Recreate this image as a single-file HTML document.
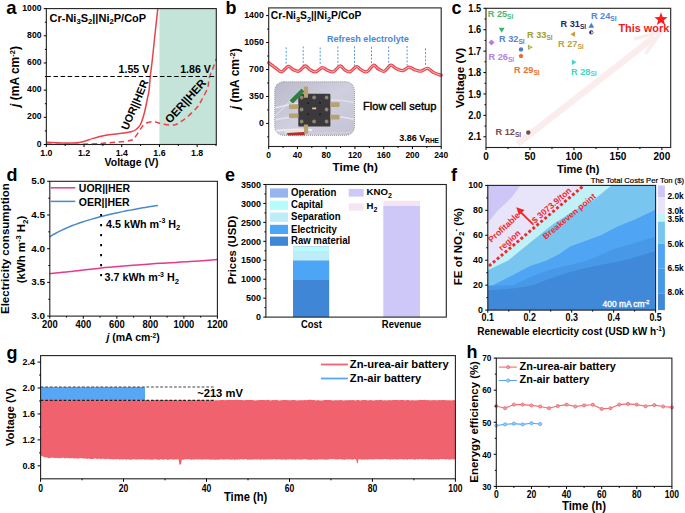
<!DOCTYPE html><html><head><meta charset="utf-8"><style>html,body{margin:0;padding:0;background:#fff;width:685px;height:513px;overflow:hidden}svg{display:block}</style></head><body>
<svg width="685" height="513" viewBox="0 0 685 513" font-family='"Liberation Sans", sans-serif'>
<rect x="159.45" y="8.60" width="56.85" height="135.90" fill="#c4e3d9" />
<path d="M46.60,142.20 C50.25,142.33 62.80,142.98 68.50,143.00 C74.20,143.02 76.70,143.07 80.80,142.30 C84.90,141.53 89.15,139.53 93.10,138.40 C97.05,137.27 100.70,136.23 104.50,135.50 C108.30,134.77 111.47,134.63 115.90,134.00 C120.33,133.37 127.62,132.55 131.10,131.70 C134.58,130.85 135.22,130.15 136.80,128.90 C138.38,127.65 139.33,126.88 140.60,124.20 C141.87,121.52 143.30,116.92 144.40,112.80 C145.50,108.68 146.42,103.30 147.20,99.50 C147.98,95.70 148.58,93.87 149.10,90.00 C149.62,86.13 149.77,81.30 150.30,76.30 C150.83,71.30 151.58,66.38 152.30,60.00 C153.02,53.62 153.68,46.57 154.60,38.00 C155.52,29.43 157.27,13.50 157.80,8.60" fill="none" stroke="#e8434b" stroke-width="1.5" />
<path d="M46.60,144.10 C53.40,144.10 75.85,144.42 87.40,144.10 C98.95,143.78 108.62,142.83 115.90,142.20 C123.18,141.57 127.93,141.10 131.10,140.30 C134.27,139.50 133.32,139.30 134.90,137.40 C136.48,135.50 139.02,131.10 140.60,128.90 C142.18,126.70 142.83,125.35 144.40,124.20 C145.97,123.05 148.23,122.38 150.00,122.00 C151.77,121.62 152.68,121.52 155.00,121.90 C157.32,122.28 160.72,123.78 163.90,124.30 C167.08,124.82 171.42,125.37 174.10,125.00 C176.78,124.63 177.80,123.43 180.00,122.10 C182.20,120.77 184.38,119.55 187.30,117.00 C190.22,114.45 195.07,109.72 197.50,106.80 C199.93,103.88 200.20,102.67 201.90,99.50 C203.60,96.33 206.48,91.38 207.70,87.80 C208.92,84.22 208.35,81.17 209.20,78.00 C210.05,74.83 211.62,71.97 212.80,68.80 C213.98,65.63 215.72,60.63 216.30,59.00" fill="none" stroke="#e8434b" stroke-width="1.5" stroke-dasharray="5.5,3.5"/>
<line x1="46.35" y1="76.55" x2="216.30" y2="76.55" stroke="#000" stroke-width="1.1" stroke-dasharray="4.5,2.6"/>
<rect x="46.35" y="8.60" width="169.95" height="135.90" fill="none" stroke="#222" stroke-width="1.1"/>
<line x1="43.75" y1="144.50" x2="46.35" y2="144.50" stroke="#000" stroke-width="1" />
<text transform="translate(41.45 146.60)" font-size="8.6" text-anchor="end" font-weight="bold" fill="#000" >0</text>
<line x1="43.75" y1="117.32" x2="46.35" y2="117.32" stroke="#000" stroke-width="1" />
<text transform="translate(41.45 119.42)" font-size="8.6" text-anchor="end" font-weight="bold" fill="#000" >200</text>
<line x1="43.75" y1="90.14" x2="46.35" y2="90.14" stroke="#000" stroke-width="1" />
<text transform="translate(41.45 92.24)" font-size="8.6" text-anchor="end" font-weight="bold" fill="#000" >400</text>
<line x1="43.75" y1="62.96" x2="46.35" y2="62.96" stroke="#000" stroke-width="1" />
<text transform="translate(41.45 65.06)" font-size="8.6" text-anchor="end" font-weight="bold" fill="#000" >600</text>
<line x1="43.75" y1="35.78" x2="46.35" y2="35.78" stroke="#000" stroke-width="1" />
<text transform="translate(41.45 37.88)" font-size="8.6" text-anchor="end" font-weight="bold" fill="#000" >800</text>
<line x1="43.75" y1="8.60" x2="46.35" y2="8.60" stroke="#000" stroke-width="1" />
<text transform="translate(41.45 10.70)" font-size="8.6" text-anchor="end" font-weight="bold" fill="#000" >1000</text>
<line x1="44.85" y1="130.91" x2="46.35" y2="130.91" stroke="#000" stroke-width="1" />
<line x1="44.85" y1="103.73" x2="46.35" y2="103.73" stroke="#000" stroke-width="1" />
<line x1="44.85" y1="76.55" x2="46.35" y2="76.55" stroke="#000" stroke-width="1" />
<line x1="44.85" y1="49.37" x2="46.35" y2="49.37" stroke="#000" stroke-width="1" />
<line x1="44.85" y1="22.19" x2="46.35" y2="22.19" stroke="#000" stroke-width="1" />
<line x1="46.35" y1="144.50" x2="46.35" y2="147.10" stroke="#000" stroke-width="1" />
<text transform="translate(46.35 156.40) scale(1.0 1.12)" font-size="8.8" text-anchor="middle" font-weight="bold" fill="#000" >1.0</text>
<line x1="84.05" y1="144.50" x2="84.05" y2="147.10" stroke="#000" stroke-width="1" />
<text transform="translate(84.05 156.40) scale(1.0 1.12)" font-size="8.8" text-anchor="middle" font-weight="bold" fill="#000" >1.2</text>
<line x1="121.75" y1="144.50" x2="121.75" y2="147.10" stroke="#000" stroke-width="1" />
<text transform="translate(121.75 156.40) scale(1.0 1.12)" font-size="8.8" text-anchor="middle" font-weight="bold" fill="#000" >1.4</text>
<line x1="159.45" y1="144.50" x2="159.45" y2="147.10" stroke="#000" stroke-width="1" />
<text transform="translate(159.45 156.40) scale(1.0 1.12)" font-size="8.8" text-anchor="middle" font-weight="bold" fill="#000" >1.6</text>
<line x1="197.15" y1="144.50" x2="197.15" y2="147.10" stroke="#000" stroke-width="1" />
<text transform="translate(197.15 156.40) scale(1.0 1.12)" font-size="8.8" text-anchor="middle" font-weight="bold" fill="#000" >1.8</text>
<line x1="65.20" y1="144.50" x2="65.20" y2="146.00" stroke="#000" stroke-width="1" />
<line x1="102.90" y1="144.50" x2="102.90" y2="146.00" stroke="#000" stroke-width="1" />
<line x1="140.60" y1="144.50" x2="140.60" y2="146.00" stroke="#000" stroke-width="1" />
<line x1="178.30" y1="144.50" x2="178.30" y2="146.00" stroke="#000" stroke-width="1" />
<line x1="216.00" y1="144.50" x2="216.00" y2="146.00" stroke="#000" stroke-width="1" />
<text transform="translate(131.50 165.60) scale(1.0 1.05)" font-size="10.5" text-anchor="middle" font-weight="bold" fill="#000" >Voltage (V)</text>
<text transform="translate(18.70 76.50) rotate(-90)" font-size="12" text-anchor="middle" font-weight="bold" fill="#000" ><tspan font-style="italic">j</tspan> (mA cm<tspan dy="-4" font-size="7.5">-2</tspan><tspan dy="4">)</tspan></text>
<text transform="translate(6.30 14.20)" font-size="18.5" text-anchor="start" font-weight="bold" fill="#000" >a</text>
<text transform="translate(49.50 21.80)" font-size="11" text-anchor="start" font-weight="bold" fill="#000" >Cr-Ni<tspan dy="2.5" font-size="7.7">3</tspan><tspan dy="-2.5">S</tspan><tspan dy="2.5" font-size="7.7">2</tspan><tspan dy="-2.5">||Ni</tspan><tspan dy="2.5" font-size="7.7">2</tspan><tspan dy="-2.5">P/CoP</tspan></text>
<text transform="translate(118.60 73.30)" font-size="10.6" text-anchor="start" font-weight="bold" fill="#000" >1.55 V</text>
<text transform="translate(180.20 73.30)" font-size="10.6" text-anchor="start" font-weight="bold" fill="#000" >1.86 V</text>
<text transform="translate(138.20 106.30) rotate(-67)" font-size="10.9" text-anchor="middle" font-weight="bold" fill="#000" >UOR||HER</text>
<text transform="translate(188.40 103.70) rotate(-48)" font-size="11.3" text-anchor="middle" font-weight="bold" fill="#000" >OER||HER</text>
<defs><clipPath id="ph"><rect x="274.7" y="81.7" width="79.8" height="53.7" rx="9" ry="9"/></clipPath><linearGradient id="phg" x1="0" y1="0" x2="1" y2="1"><stop offset="0" stop-color="#b9b9cb"/><stop offset="0.5" stop-color="#cfcfdf"/><stop offset="1" stop-color="#c3c3d6"/></linearGradient></defs>
<g clip-path="url(#ph)">
<rect x="274.70" y="81.70" width="79.80" height="53.70" fill="url(#phg)" />
<path d="M274,108 C284,106 292,104 300,103" fill="none" stroke="#e6e6f0" stroke-width="1.4" />
<path d="M274,120 C284,118 292,117 300,116" fill="none" stroke="#e2e2ec" stroke-width="1.4" />
<path d="M274,131 C290,129 300,129 312,130" fill="none" stroke="#eeeef4" stroke-width="1.8" />
<path d="M330,100 C340,99 348,101 356,103" fill="none" stroke="#e4e4ee" stroke-width="1.3" />
<path d="M330,116 C340,116 348,118 356,120" fill="none" stroke="#e4e4ee" stroke-width="1.3" />
<path d="M275,116 C282,110 288,103 291,100" fill="none" stroke="#f4f4f8" stroke-width="0.7" />
<path d="M306,134 C320,133 338,133 356,132" fill="none" stroke="#d8ccd4" stroke-width="1.5" />
<rect x="298.30" y="93.80" width="32.10" height="32.80" fill="#3b393b" rx="1.2"/>
<circle cx="301.60" cy="97.50" r="1.9" fill="#8c8678"/>
<circle cx="314.10" cy="97.50" r="1.9" fill="#8c8678"/>
<circle cx="326.60" cy="97.50" r="1.9" fill="#8c8678"/>
<circle cx="301.60" cy="109.50" r="1.9" fill="#8c8678"/>
<circle cx="326.60" cy="109.50" r="1.9" fill="#8c8678"/>
<circle cx="301.60" cy="121.50" r="1.9" fill="#8c8678"/>
<circle cx="314.10" cy="121.50" r="1.9" fill="#8c8678"/>
<circle cx="326.60" cy="121.50" r="1.9" fill="#8c8678"/>
<circle cx="308.2" cy="103" r="1.0" fill="#1e1e1e"/>
<circle cx="320" cy="103" r="1.0" fill="#1e1e1e"/>
<circle cx="308.2" cy="114.2" r="1.0" fill="#1e1e1e"/>
<circle cx="320" cy="114.2" r="1.0" fill="#1e1e1e"/>
<rect x="312.20" y="107.50" width="4.00" height="1.80" fill="#d4c8a8" />
<rect x="289.00" y="104.30" width="9.30" height="4.60" fill="#b8a272" rx="0.8"/>
<rect x="289.00" y="113.50" width="9.30" height="4.50" fill="#b8a272" rx="0.8"/>
<rect x="330.40" y="102.30" width="9.20" height="4.60" fill="#b8a272" rx="0.8"/>
<rect x="330.40" y="114.80" width="9.20" height="4.60" fill="#b8a272" rx="0.8"/>
<rect x="303.90" y="86.50" width="4.20" height="11.20" fill="#b8a272" rx="0.8"/>
<rect x="303.90" y="124.60" width="4.20" height="9.20" fill="#b8a272" rx="0.8"/>
<path d="M290.5,100.5 L301.5,89.5 L303.5,91.5 L293,102.5 Z" fill="#2d8040" stroke="#2d8040" stroke-width="1.2" stroke-linejoin="round"/>
<path d="M284,130 L304,129.5 L304,132.2 L285,133.2 Z" fill="#e8e6dc"/>
<path d="M287,133 L304,132 L305,135.5 L288,136 Z" fill="#c02828"/>
</g>
<rect x="274.7" y="81.7" width="79.8" height="53.7" rx="9" ry="9" fill="none" stroke="#555" stroke-width="0.6" stroke-dasharray="1,1"/>
<line x1="286.20" y1="47.30" x2="286.20" y2="65.70" stroke="#4a88d0" stroke-width="0.9" stroke-dasharray="2,1.6"/>
<line x1="303.20" y1="46.40" x2="303.20" y2="65.70" stroke="#4a88d0" stroke-width="0.9" stroke-dasharray="2,1.6"/>
<line x1="320.20" y1="47.50" x2="320.20" y2="65.70" stroke="#4a88d0" stroke-width="0.9" stroke-dasharray="2,1.6"/>
<line x1="337.90" y1="46.40" x2="337.90" y2="65.70" stroke="#4a88d0" stroke-width="0.9" stroke-dasharray="2,1.6"/>
<line x1="354.50" y1="46.40" x2="354.50" y2="65.70" stroke="#4a88d0" stroke-width="0.9" stroke-dasharray="2,1.6"/>
<line x1="371.50" y1="46.80" x2="371.50" y2="65.70" stroke="#4a88d0" stroke-width="0.9" stroke-dasharray="2,1.6"/>
<line x1="388.70" y1="46.40" x2="388.70" y2="65.70" stroke="#4a88d0" stroke-width="0.9" stroke-dasharray="2,1.6"/>
<line x1="407.10" y1="46.00" x2="407.10" y2="65.70" stroke="#4a88d0" stroke-width="0.9" stroke-dasharray="2,1.6"/>
<line x1="425.50" y1="48.50" x2="425.50" y2="65.70" stroke="#4a88d0" stroke-width="0.9" stroke-dasharray="2,1.6"/>
<path d="M268.70,62.80 C269.83,63.63 273.33,66.30 275.50,67.80 C277.67,69.30 279.58,72.03 281.70,71.80 C283.82,71.57 286.33,66.80 288.20,66.40 C290.07,66.00 291.18,68.58 292.93,69.38 C294.68,70.18 296.65,71.76 298.70,71.20 C300.75,70.64 303.33,66.27 305.20,66.00 C307.07,65.73 308.18,68.63 309.93,69.60 C311.68,70.56 313.65,72.13 315.70,71.80 C317.75,71.47 320.28,67.87 322.20,67.60 C324.12,67.33 325.37,69.50 327.24,70.20 C329.11,70.90 331.29,72.50 333.40,71.80 C335.51,71.10 338.06,66.37 339.90,66.00 C341.74,65.63 342.76,68.63 344.44,69.60 C346.13,70.56 347.99,72.28 350.00,71.80 C352.01,71.32 354.63,67.02 356.50,66.70 C358.37,66.38 359.48,69.01 361.23,69.86 C362.98,70.71 364.95,72.56 367.00,71.80 C369.05,71.04 371.61,65.77 373.50,65.30 C375.39,64.83 376.53,67.97 378.31,68.96 C380.10,69.94 382.14,71.83 384.20,71.20 C386.26,70.57 388.72,65.64 390.70,65.20 C392.68,64.76 394.07,67.65 396.06,68.55 C398.04,69.45 400.43,70.82 402.60,70.60 C404.77,70.38 407.12,67.35 409.10,67.20 C411.08,67.05 412.47,69.01 414.46,69.68 C416.44,70.35 418.83,71.43 421.00,71.20 C423.17,70.97 425.39,68.06 427.50,68.30 C429.61,68.54 431.38,71.47 433.67,72.64 C435.95,73.81 439.94,74.86 441.20,75.30" fill="none" stroke="#e8474f" stroke-width="3.3" stroke-linecap="round"/>
<path d="M268.70,62.80 C269.83,63.63 273.33,66.30 275.50,67.80 C277.67,69.30 279.58,72.03 281.70,71.80 C283.82,71.57 286.33,66.80 288.20,66.40 C290.07,66.00 291.18,68.58 292.93,69.38 C294.68,70.18 296.65,71.76 298.70,71.20 C300.75,70.64 303.33,66.27 305.20,66.00 C307.07,65.73 308.18,68.63 309.93,69.60 C311.68,70.56 313.65,72.13 315.70,71.80 C317.75,71.47 320.28,67.87 322.20,67.60 C324.12,67.33 325.37,69.50 327.24,70.20 C329.11,70.90 331.29,72.50 333.40,71.80 C335.51,71.10 338.06,66.37 339.90,66.00 C341.74,65.63 342.76,68.63 344.44,69.60 C346.13,70.56 347.99,72.28 350.00,71.80 C352.01,71.32 354.63,67.02 356.50,66.70 C358.37,66.38 359.48,69.01 361.23,69.86 C362.98,70.71 364.95,72.56 367.00,71.80 C369.05,71.04 371.61,65.77 373.50,65.30 C375.39,64.83 376.53,67.97 378.31,68.96 C380.10,69.94 382.14,71.83 384.20,71.20 C386.26,70.57 388.72,65.64 390.70,65.20 C392.68,64.76 394.07,67.65 396.06,68.55 C398.04,69.45 400.43,70.82 402.60,70.60 C404.77,70.38 407.12,67.35 409.10,67.20 C411.08,67.05 412.47,69.01 414.46,69.68 C416.44,70.35 418.83,71.43 421.00,71.20 C423.17,70.97 425.39,68.06 427.50,68.30 C429.61,68.54 431.38,71.47 433.67,72.64 C435.95,73.81 439.94,74.86 441.20,75.30" fill="none" stroke="#fbe4e5" stroke-width="0.8" />
<rect x="268.70" y="7.90" width="172.50" height="138.60" fill="none" stroke="#222" stroke-width="1.1"/>
<line x1="266.10" y1="123.40" x2="268.70" y2="123.40" stroke="#000" stroke-width="1" />
<text transform="translate(263.80 125.60) scale(1.0 1.05)" font-size="8.8" text-anchor="end" font-weight="bold" fill="#000" >0</text>
<line x1="266.10" y1="96.45" x2="268.70" y2="96.45" stroke="#000" stroke-width="1" />
<text transform="translate(263.80 98.65) scale(1.0 1.05)" font-size="8.8" text-anchor="end" font-weight="bold" fill="#000" >350</text>
<line x1="266.10" y1="69.50" x2="268.70" y2="69.50" stroke="#000" stroke-width="1" />
<text transform="translate(263.80 71.70) scale(1.0 1.05)" font-size="8.8" text-anchor="end" font-weight="bold" fill="#000" >700</text>
<line x1="266.10" y1="42.55" x2="268.70" y2="42.55" stroke="#000" stroke-width="1" />
<text transform="translate(263.80 44.75) scale(1.0 1.05)" font-size="8.8" text-anchor="end" font-weight="bold" fill="#000" >1050</text>
<line x1="266.10" y1="15.60" x2="268.70" y2="15.60" stroke="#000" stroke-width="1" />
<text transform="translate(263.80 17.80) scale(1.0 1.05)" font-size="8.8" text-anchor="end" font-weight="bold" fill="#000" >1400</text>
<line x1="267.20" y1="136.88" x2="268.70" y2="136.88" stroke="#000" stroke-width="1" />
<line x1="267.20" y1="109.92" x2="268.70" y2="109.92" stroke="#000" stroke-width="1" />
<line x1="267.20" y1="82.97" x2="268.70" y2="82.97" stroke="#000" stroke-width="1" />
<line x1="267.20" y1="56.03" x2="268.70" y2="56.03" stroke="#000" stroke-width="1" />
<line x1="267.20" y1="29.08" x2="268.70" y2="29.08" stroke="#000" stroke-width="1" />
<line x1="268.70" y1="146.50" x2="268.70" y2="149.10" stroke="#000" stroke-width="1" />
<text transform="translate(268.70 157.60) scale(1.0 1.18)" font-size="8.4" text-anchor="middle" font-weight="bold" fill="#000" >0</text>
<line x1="297.45" y1="146.50" x2="297.45" y2="149.10" stroke="#000" stroke-width="1" />
<text transform="translate(297.45 157.60) scale(1.0 1.18)" font-size="8.4" text-anchor="middle" font-weight="bold" fill="#000" >40</text>
<line x1="326.20" y1="146.50" x2="326.20" y2="149.10" stroke="#000" stroke-width="1" />
<text transform="translate(326.20 157.60) scale(1.0 1.18)" font-size="8.4" text-anchor="middle" font-weight="bold" fill="#000" >80</text>
<line x1="354.95" y1="146.50" x2="354.95" y2="149.10" stroke="#000" stroke-width="1" />
<text transform="translate(354.95 157.60) scale(1.0 1.18)" font-size="8.4" text-anchor="middle" font-weight="bold" fill="#000" >120</text>
<line x1="383.70" y1="146.50" x2="383.70" y2="149.10" stroke="#000" stroke-width="1" />
<text transform="translate(383.70 157.60) scale(1.0 1.18)" font-size="8.4" text-anchor="middle" font-weight="bold" fill="#000" >160</text>
<line x1="412.45" y1="146.50" x2="412.45" y2="149.10" stroke="#000" stroke-width="1" />
<text transform="translate(412.45 157.60) scale(1.0 1.18)" font-size="8.4" text-anchor="middle" font-weight="bold" fill="#000" >200</text>
<line x1="441.20" y1="146.50" x2="441.20" y2="149.10" stroke="#000" stroke-width="1" />
<text transform="translate(441.20 157.60) scale(1.0 1.18)" font-size="8.4" text-anchor="middle" font-weight="bold" fill="#000" >240</text>
<line x1="283.07" y1="146.50" x2="283.07" y2="148.00" stroke="#000" stroke-width="1" />
<line x1="311.82" y1="146.50" x2="311.82" y2="148.00" stroke="#000" stroke-width="1" />
<line x1="340.57" y1="146.50" x2="340.57" y2="148.00" stroke="#000" stroke-width="1" />
<line x1="369.32" y1="146.50" x2="369.32" y2="148.00" stroke="#000" stroke-width="1" />
<line x1="398.07" y1="146.50" x2="398.07" y2="148.00" stroke="#000" stroke-width="1" />
<line x1="426.82" y1="146.50" x2="426.82" y2="148.00" stroke="#000" stroke-width="1" />
<text transform="translate(355.20 170.60)" font-size="11.7" text-anchor="middle" font-weight="bold" fill="#000" >Time (h)</text>
<text transform="translate(238.50 78.80) rotate(-90)" font-size="12" text-anchor="middle" font-weight="bold" fill="#000" ><tspan font-style="italic">j</tspan> (mA cm<tspan dy="-4" font-size="7.5">-2</tspan><tspan dy="4">)</tspan></text>
<text transform="translate(225.50 14.00)" font-size="18" text-anchor="start" font-weight="bold" fill="#000" >b</text>
<text transform="translate(270.80 19.40)" font-size="10.3" text-anchor="start" font-weight="bold" fill="#000" >Cr-Ni<tspan dy="2.3" font-size="7.3">3</tspan><tspan dy="-2.3">S</tspan><tspan dy="2.3" font-size="7.3">2</tspan><tspan dy="-2.3">||Ni</tspan><tspan dy="2.3" font-size="7.3">2</tspan><tspan dy="-2.3">P/CoP</tspan></text>
<text transform="translate(367.90 42.00)" font-size="9.1" text-anchor="middle" font-weight="bold" fill="#4a88d0" >Refresh electrolyte</text>
<text transform="translate(399.70 110.20)" font-size="11.1" text-anchor="middle" font-weight="normal" fill="#000" stroke="#000" stroke-width="0.4">Flow cell setup</text>
<text transform="translate(399.20 140.70)" font-size="9" text-anchor="start" font-weight="bold" fill="#000" >3.86 V<tspan dy="2.5" font-size="6.5">RHE</tspan></text>
<g opacity="0.34">
<path d="M517.6,144.0 L655,36.5" stroke="#f5cccc" stroke-width="6.4" stroke-linecap="butt"/>
<path d="M634,39 L661.5,31.6 L645.7,53.5" fill="none" stroke="#f5cccc" stroke-width="3.6" stroke-linejoin="miter"/>
</g>
<polygon points="498.80,27.78 504.60,27.78 501.70,32.71" fill="#3cb371" />
<polygon points="491.50,39.60 494.50,42.60 491.50,45.60 488.50,42.60" fill="#b57be8" />
<circle cx="521" cy="49.4" r="2.2" fill="#4f7cc4"/>
<polygon points="521.00,53.60 523.28,55.26 522.41,57.94 519.59,57.94 518.72,55.26" fill="#f06a2a" />
<polygon points="527.96,44.50 527.96,50.10 532.72,47.30" fill="#9aa030" />
<path d="M528.6,45.0 L528.6,49.6 L531.5,47.3 Z" fill="#fff" opacity="0.5"/>
<circle cx="528.3" cy="132.5" r="2.2" fill="#7a4a50"/>
<polygon points="588.40,27.72 594.20,27.72 591.30,22.79" fill="#3f7ee0" />
<circle cx="591.3" cy="32.4" r="2.1" fill="#2a1f6e"/>
<path d="M591.3,30.9 A1.5,1.5 0 0 1 591.3,33.9 Z" fill="#fff"/>
<polygon points="575.14,31.40 575.14,37.00 570.38,34.20" fill="#c0a040" />
<polygon points="571.86,59.40 571.86,65.00 576.62,62.20" fill="#40d8c8" />
<polygon points="661.00,12.30 662.70,16.95 667.66,17.14 663.76,20.20 665.11,24.96 661.00,22.20 656.89,24.96 658.24,20.20 654.34,17.14 659.30,16.95" fill="#fc1a1a" />
<text transform="translate(487.70 16.90)" font-size="9.2" text-anchor="start" font-weight="bold" fill="#4cb86a" >R 25<tspan dy="1.9" font-size="6.6">SI</tspan></text>
<text transform="translate(499.00 42.40)" font-size="9.2" text-anchor="start" font-weight="bold" fill="#5d82c8" >R 32<tspan dy="1.9" font-size="6.6">SI</tspan></text>
<text transform="translate(488.50 59.60)" font-size="9.2" text-anchor="start" font-weight="bold" fill="#b77ee8" >R 26<tspan dy="1.9" font-size="6.6">SI</tspan></text>
<text transform="translate(514.00 72.70)" font-size="9.2" text-anchor="start" font-weight="bold" fill="#f07030" >R 29<tspan dy="1.9" font-size="6.6">SI</tspan></text>
<text transform="translate(527.00 37.70)" font-size="9.2" text-anchor="start" font-weight="bold" fill="#9aa030" >R 33<tspan dy="1.9" font-size="6.6">SI</tspan></text>
<text transform="translate(495.50 134.80)" font-size="9.2" text-anchor="start" font-weight="bold" fill="#7a4a50" >R 12<tspan dy="1.9" font-size="6.6">SI</tspan></text>
<text transform="translate(590.90 18.90)" font-size="9.2" text-anchor="start" font-weight="bold" fill="#4f86e0" >R 24<tspan dy="1.9" font-size="6.6">SI</tspan></text>
<text transform="translate(560.50 27.20)" font-size="9.2" text-anchor="start" font-weight="bold" fill="#2a1f6e" >R 31<tspan dy="1.9" font-size="6.6">SI</tspan></text>
<text transform="translate(558.00 47.00)" font-size="9.2" text-anchor="start" font-weight="bold" fill="#c0a040" >R 27<tspan dy="1.9" font-size="6.6">SI</tspan></text>
<text transform="translate(571.00 74.50)" font-size="9.2" text-anchor="start" font-weight="bold" fill="#40d8c8" >R 28<tspan dy="1.9" font-size="6.6">SI</tspan></text>
<text transform="translate(618.40 31.50)" font-size="10.9" text-anchor="start" font-weight="bold" fill="#f02020" >This work</text>
<rect x="486.00" y="8.30" width="184.70" height="139.20" fill="none" stroke="#222" stroke-width="1.1"/>
<line x1="483.40" y1="8.30" x2="486.00" y2="8.30" stroke="#000" stroke-width="1" />
<text transform="translate(481.10 11.90) scale(1.0 1.14)" font-size="9.2" text-anchor="end" font-weight="bold" fill="#000" >1.5</text>
<line x1="483.40" y1="29.72" x2="486.00" y2="29.72" stroke="#000" stroke-width="1" />
<text transform="translate(481.10 33.32) scale(1.0 1.14)" font-size="9.2" text-anchor="end" font-weight="bold" fill="#000" >1.6</text>
<line x1="483.40" y1="51.13" x2="486.00" y2="51.13" stroke="#000" stroke-width="1" />
<text transform="translate(481.10 54.73) scale(1.0 1.14)" font-size="9.2" text-anchor="end" font-weight="bold" fill="#000" >1.7</text>
<line x1="483.40" y1="72.55" x2="486.00" y2="72.55" stroke="#000" stroke-width="1" />
<text transform="translate(481.10 76.15) scale(1.0 1.14)" font-size="9.2" text-anchor="end" font-weight="bold" fill="#000" >1.8</text>
<line x1="483.40" y1="93.96" x2="486.00" y2="93.96" stroke="#000" stroke-width="1" />
<text transform="translate(481.10 97.56) scale(1.0 1.14)" font-size="9.2" text-anchor="end" font-weight="bold" fill="#000" >1.9</text>
<line x1="483.40" y1="115.38" x2="486.00" y2="115.38" stroke="#000" stroke-width="1" />
<text transform="translate(481.10 118.98) scale(1.0 1.14)" font-size="9.2" text-anchor="end" font-weight="bold" fill="#000" >2.0</text>
<line x1="483.40" y1="136.79" x2="486.00" y2="136.79" stroke="#000" stroke-width="1" />
<text transform="translate(481.10 140.39) scale(1.0 1.14)" font-size="9.2" text-anchor="end" font-weight="bold" fill="#000" >2.1</text>
<line x1="484.50" y1="19.01" x2="486.00" y2="19.01" stroke="#000" stroke-width="1" />
<line x1="484.50" y1="40.42" x2="486.00" y2="40.42" stroke="#000" stroke-width="1" />
<line x1="484.50" y1="61.84" x2="486.00" y2="61.84" stroke="#000" stroke-width="1" />
<line x1="484.50" y1="83.25" x2="486.00" y2="83.25" stroke="#000" stroke-width="1" />
<line x1="484.50" y1="104.67" x2="486.00" y2="104.67" stroke="#000" stroke-width="1" />
<line x1="484.50" y1="126.08" x2="486.00" y2="126.08" stroke="#000" stroke-width="1" />
<line x1="486.00" y1="147.50" x2="486.00" y2="150.10" stroke="#000" stroke-width="1" />
<text transform="translate(486.00 159.70)" font-size="10.0" text-anchor="middle" font-weight="bold" fill="#000" >0</text>
<line x1="529.98" y1="147.50" x2="529.98" y2="150.10" stroke="#000" stroke-width="1" />
<text transform="translate(529.98 159.70)" font-size="10.0" text-anchor="middle" font-weight="bold" fill="#000" >50</text>
<line x1="573.95" y1="147.50" x2="573.95" y2="150.10" stroke="#000" stroke-width="1" />
<text transform="translate(573.95 159.70)" font-size="10.0" text-anchor="middle" font-weight="bold" fill="#000" >100</text>
<line x1="617.93" y1="147.50" x2="617.93" y2="150.10" stroke="#000" stroke-width="1" />
<text transform="translate(617.93 159.70)" font-size="10.0" text-anchor="middle" font-weight="bold" fill="#000" >150</text>
<line x1="661.90" y1="147.50" x2="661.90" y2="150.10" stroke="#000" stroke-width="1" />
<text transform="translate(661.90 159.70)" font-size="10.0" text-anchor="middle" font-weight="bold" fill="#000" >200</text>
<line x1="507.99" y1="147.50" x2="507.99" y2="149.00" stroke="#000" stroke-width="1" />
<line x1="551.96" y1="147.50" x2="551.96" y2="149.00" stroke="#000" stroke-width="1" />
<line x1="595.94" y1="147.50" x2="595.94" y2="149.00" stroke="#000" stroke-width="1" />
<line x1="639.92" y1="147.50" x2="639.92" y2="149.00" stroke="#000" stroke-width="1" />
<text transform="translate(578.20 172.90)" font-size="11" text-anchor="middle" font-weight="bold" fill="#000" >Time (h)</text>
<text transform="translate(463.60 78.00) rotate(-90)" font-size="11.7" text-anchor="middle" font-weight="bold" fill="#000" >Voltage (V)</text>
<text transform="translate(451.50 14.00)" font-size="18" text-anchor="start" font-weight="bold" fill="#000" >c</text>
<path d="M49.80,273.70 C53.17,273.35 61.42,272.57 70.00,271.60 C78.58,270.63 91.30,268.90 101.30,267.90 C111.30,266.90 120.22,266.37 130.00,265.60 C139.78,264.83 150.00,263.97 160.00,263.30 C170.00,262.63 180.43,262.22 190.00,261.60 C199.57,260.98 212.83,259.93 217.40,259.60" fill="none" stroke="#e8388e" stroke-width="1.5" />
<polyline points="49.80,236.80 52.31,235.22 54.83,233.75 57.34,232.38 59.86,231.08 62.37,229.86 64.88,228.70 67.40,227.60 69.91,226.55 72.43,225.56 74.94,224.60 77.45,223.69 79.97,222.81 82.48,221.96 85.00,221.15 87.51,220.37 90.02,219.61 92.54,218.88 95.05,218.17 97.57,217.49 100.08,216.82 102.59,216.18 105.11,215.55 107.62,214.95 110.14,214.35 112.65,213.78 115.16,213.22 117.68,212.67 120.19,212.14 122.71,211.61 125.22,211.11 127.73,210.61 130.25,210.12 132.76,209.65 135.28,209.18 137.79,208.72 140.30,208.28 142.82,207.84 145.33,207.41 147.85,206.99 150.36,206.58 152.87,206.17 155.39,205.78 157.90,205.39" fill="none" stroke="#4a88cc" stroke-width="1.5" stroke-linejoin="round" />
<line x1="101.10" y1="214.00" x2="101.10" y2="278.00" stroke="#000" stroke-width="1.9" stroke-dasharray="2.2,7.8"/>
<rect x="49.80" y="181.30" width="167.60" height="134.80" fill="none" stroke="#222" stroke-width="1.1"/>
<line x1="47.20" y1="316.10" x2="49.80" y2="316.10" stroke="#000" stroke-width="1" />
<text transform="translate(44.90 318.90)" font-size="9.9" text-anchor="end" font-weight="bold" fill="#000" >3.0</text>
<line x1="47.20" y1="282.40" x2="49.80" y2="282.40" stroke="#000" stroke-width="1" />
<text transform="translate(44.90 285.20)" font-size="9.9" text-anchor="end" font-weight="bold" fill="#000" >3.5</text>
<line x1="47.20" y1="248.70" x2="49.80" y2="248.70" stroke="#000" stroke-width="1" />
<text transform="translate(44.90 251.50)" font-size="9.9" text-anchor="end" font-weight="bold" fill="#000" >4.0</text>
<line x1="47.20" y1="215.00" x2="49.80" y2="215.00" stroke="#000" stroke-width="1" />
<text transform="translate(44.90 217.80)" font-size="9.9" text-anchor="end" font-weight="bold" fill="#000" >4.5</text>
<line x1="47.20" y1="181.30" x2="49.80" y2="181.30" stroke="#000" stroke-width="1" />
<text transform="translate(44.90 184.10)" font-size="9.9" text-anchor="end" font-weight="bold" fill="#000" >5.0</text>
<line x1="48.30" y1="299.25" x2="49.80" y2="299.25" stroke="#000" stroke-width="1" />
<line x1="48.30" y1="265.55" x2="49.80" y2="265.55" stroke="#000" stroke-width="1" />
<line x1="48.30" y1="231.85" x2="49.80" y2="231.85" stroke="#000" stroke-width="1" />
<line x1="48.30" y1="198.15" x2="49.80" y2="198.15" stroke="#000" stroke-width="1" />
<line x1="49.80" y1="316.10" x2="49.80" y2="318.70" stroke="#000" stroke-width="1" />
<text transform="translate(49.80 328.20) scale(1.0 1.15)" font-size="9.4" text-anchor="middle" font-weight="bold" fill="#000" >200</text>
<line x1="83.32" y1="316.10" x2="83.32" y2="318.70" stroke="#000" stroke-width="1" />
<text transform="translate(83.32 328.20) scale(1.0 1.15)" font-size="9.4" text-anchor="middle" font-weight="bold" fill="#000" >400</text>
<line x1="116.84" y1="316.10" x2="116.84" y2="318.70" stroke="#000" stroke-width="1" />
<text transform="translate(116.84 328.20) scale(1.0 1.15)" font-size="9.4" text-anchor="middle" font-weight="bold" fill="#000" >600</text>
<line x1="150.36" y1="316.10" x2="150.36" y2="318.70" stroke="#000" stroke-width="1" />
<text transform="translate(150.36 328.20) scale(1.0 1.15)" font-size="9.4" text-anchor="middle" font-weight="bold" fill="#000" >800</text>
<line x1="183.88" y1="316.10" x2="183.88" y2="318.70" stroke="#000" stroke-width="1" />
<text transform="translate(183.88 328.20) scale(1.0 1.15)" font-size="9.4" text-anchor="middle" font-weight="bold" fill="#000" >1000</text>
<line x1="217.40" y1="316.10" x2="217.40" y2="318.70" stroke="#000" stroke-width="1" />
<text transform="translate(217.40 328.20) scale(1.0 1.15)" font-size="9.4" text-anchor="middle" font-weight="bold" fill="#000" >1200</text>
<line x1="66.56" y1="316.10" x2="66.56" y2="317.60" stroke="#000" stroke-width="1" />
<line x1="100.08" y1="316.10" x2="100.08" y2="317.60" stroke="#000" stroke-width="1" />
<line x1="133.60" y1="316.10" x2="133.60" y2="317.60" stroke="#000" stroke-width="1" />
<line x1="167.12" y1="316.10" x2="167.12" y2="317.60" stroke="#000" stroke-width="1" />
<line x1="200.64" y1="316.10" x2="200.64" y2="317.60" stroke="#000" stroke-width="1" />
<line x1="50.80" y1="187.80" x2="75.30" y2="187.80" stroke="#e8388e" stroke-width="1.5" />
<line x1="50.80" y1="201.40" x2="75.30" y2="201.40" stroke="#4a88cc" stroke-width="1.5" />
<text transform="translate(78.80 192.20)" font-size="10.5" text-anchor="start" font-weight="bold" fill="#000" >UOR||HER</text>
<text transform="translate(78.80 205.60)" font-size="10.5" text-anchor="start" font-weight="bold" fill="#000" >OER||HER</text>
<text transform="translate(106.00 227.60) scale(1.0 1.06)" font-size="10.75" text-anchor="start" font-weight="bold" fill="#000" >4.5 kWh m<tspan dy="-4" font-size="7">-3</tspan><tspan dy="4"> H</tspan><tspan dy="2.4" font-size="7.6">2</tspan></text>
<text transform="translate(104.60 281.10) scale(1.0 1.06)" font-size="10.75" text-anchor="start" font-weight="bold" fill="#000" >3.7 kWh m<tspan dy="-4" font-size="7">-3</tspan><tspan dy="4"> H</tspan><tspan dy="2.4" font-size="7.6">2</tspan></text>
<text transform="translate(133.00 341.30)" font-size="10.5" text-anchor="middle" font-weight="bold" fill="#000" ><tspan font-style="italic">j</tspan> (mA cm<tspan dy="-3.5" font-size="6.5">-2</tspan><tspan dy="3.5">)</tspan></text>
<text transform="translate(8.70 248.60) rotate(-90)" font-size="11.55" text-anchor="middle" font-weight="bold" fill="#000" >Electricity consumption</text>
<text transform="translate(25.30 249.50) rotate(-90)" font-size="11.4" text-anchor="middle" font-weight="bold" fill="#000" >(kWh m<tspan dy="-4" font-size="7.5">-3</tspan><tspan dy="4"> H</tspan><tspan dy="2.5" font-size="8">2</tspan><tspan dy="-2.5">)</tspan></text>
<text transform="translate(6.50 180.50)" font-size="18" text-anchor="start" font-weight="bold" fill="#000" >d</text>
<rect x="293.00" y="279.21" width="36.20" height="37.89" fill="#3f86d6" />
<rect x="293.00" y="260.27" width="36.20" height="18.94" fill="#4ca6f5" />
<rect x="293.00" y="250.99" width="36.20" height="9.28" fill="#bcedf8" />
<rect x="293.00" y="247.01" width="36.20" height="3.98" fill="#b6fcfc" />
<rect x="293.00" y="246.25" width="36.20" height="0.76" fill="#a8d0f4" />
<rect x="383.30" y="205.64" width="36.70" height="111.46" fill="#cdc8f8" />
<rect x="383.30" y="200.75" width="36.70" height="4.89" fill="#f5e4f2" />
<rect x="270.00" y="188.40" width="18.00" height="9.20" fill="#98b4ec" />
<text transform="translate(291.00 196.10) scale(1.0 1.06)" font-size="9.6" text-anchor="start" font-weight="bold" fill="#000" >Operation</text>
<rect x="270.00" y="200.70" width="18.00" height="9.20" fill="#b6fcfc" />
<text transform="translate(291.00 208.40) scale(1.0 1.06)" font-size="9.6" text-anchor="start" font-weight="bold" fill="#000" >Capital</text>
<rect x="270.00" y="212.60" width="18.00" height="9.20" fill="#bcedf8" />
<text transform="translate(291.00 220.30) scale(1.0 1.06)" font-size="9.6" text-anchor="start" font-weight="bold" fill="#000" >Separation</text>
<rect x="270.00" y="224.80" width="18.00" height="9.20" fill="#4ca6f5" />
<text transform="translate(291.00 232.50) scale(1.0 1.06)" font-size="9.6" text-anchor="start" font-weight="bold" fill="#000" >Electricity</text>
<rect x="270.00" y="236.60" width="18.00" height="9.20" fill="#3f86d6" />
<text transform="translate(291.00 244.30) scale(1.0 1.06)" font-size="9.6" text-anchor="start" font-weight="bold" fill="#000" >Raw material</text>
<rect x="348.80" y="188.90" width="14.90" height="7.70" fill="#cdc8f8" />
<rect x="348.80" y="203.30" width="14.90" height="7.30" fill="#f5e4f2" />
<text transform="translate(366.60 195.40)" font-size="9.6" text-anchor="start" font-weight="bold" fill="#000" >KNO<tspan dy="2.2" font-size="7">2</tspan></text>
<text transform="translate(366.60 209.40)" font-size="9.6" text-anchor="start" font-weight="bold" fill="#000" >H<tspan dy="2.2" font-size="7">2</tspan></text>
<rect x="265.90" y="184.50" width="180.40" height="132.60" fill="none" stroke="#222" stroke-width="1.1"/>
<line x1="263.30" y1="317.10" x2="265.90" y2="317.10" stroke="#000" stroke-width="1" />
<text transform="translate(261.00 320.30) scale(1.0 1.06)" font-size="9.0" text-anchor="end" font-weight="bold" fill="#000" >0</text>
<line x1="263.30" y1="298.16" x2="265.90" y2="298.16" stroke="#000" stroke-width="1" />
<text transform="translate(261.00 301.36) scale(1.0 1.06)" font-size="9.0" text-anchor="end" font-weight="bold" fill="#000" >500</text>
<line x1="263.30" y1="279.21" x2="265.90" y2="279.21" stroke="#000" stroke-width="1" />
<text transform="translate(261.00 282.41) scale(1.0 1.06)" font-size="9.0" text-anchor="end" font-weight="bold" fill="#000" >1000</text>
<line x1="263.30" y1="260.27" x2="265.90" y2="260.27" stroke="#000" stroke-width="1" />
<text transform="translate(261.00 263.47) scale(1.0 1.06)" font-size="9.0" text-anchor="end" font-weight="bold" fill="#000" >1500</text>
<line x1="263.30" y1="241.33" x2="265.90" y2="241.33" stroke="#000" stroke-width="1" />
<text transform="translate(261.00 244.53) scale(1.0 1.06)" font-size="9.0" text-anchor="end" font-weight="bold" fill="#000" >2000</text>
<line x1="263.30" y1="222.39" x2="265.90" y2="222.39" stroke="#000" stroke-width="1" />
<text transform="translate(261.00 225.59) scale(1.0 1.06)" font-size="9.0" text-anchor="end" font-weight="bold" fill="#000" >2500</text>
<line x1="263.30" y1="203.44" x2="265.90" y2="203.44" stroke="#000" stroke-width="1" />
<text transform="translate(261.00 206.64) scale(1.0 1.06)" font-size="9.0" text-anchor="end" font-weight="bold" fill="#000" >3000</text>
<line x1="263.30" y1="184.50" x2="265.90" y2="184.50" stroke="#000" stroke-width="1" />
<text transform="translate(261.00 187.70) scale(1.0 1.06)" font-size="9.0" text-anchor="end" font-weight="bold" fill="#000" >3500</text>
<line x1="264.40" y1="307.63" x2="265.90" y2="307.63" stroke="#000" stroke-width="1" />
<line x1="264.40" y1="288.69" x2="265.90" y2="288.69" stroke="#000" stroke-width="1" />
<line x1="264.40" y1="269.74" x2="265.90" y2="269.74" stroke="#000" stroke-width="1" />
<line x1="264.40" y1="250.80" x2="265.90" y2="250.80" stroke="#000" stroke-width="1" />
<line x1="264.40" y1="231.86" x2="265.90" y2="231.86" stroke="#000" stroke-width="1" />
<line x1="264.40" y1="212.91" x2="265.90" y2="212.91" stroke="#000" stroke-width="1" />
<line x1="264.40" y1="193.97" x2="265.90" y2="193.97" stroke="#000" stroke-width="1" />
<text transform="translate(311.40 328.00) scale(1.0 1.1)" font-size="9.4" text-anchor="middle" font-weight="bold" fill="#000" >Cost</text>
<text transform="translate(401.60 327.90) scale(1.0 1.1)" font-size="9.5" text-anchor="middle" font-weight="bold" fill="#000" >Revenue</text>
<text transform="translate(236.00 250.00) rotate(-90)" font-size="11.3" text-anchor="middle" font-weight="bold" fill="#000" >Prices (USD)</text>
<text transform="translate(225.00 180.50)" font-size="18" text-anchor="start" font-weight="bold" fill="#000" >e</text>
<rect x="487.80" y="185.40" width="167.80" height="124.70" fill="#4088d8" />
<polygon points="487.80,185.40 655.60,185.40 655.60,250.90 627.90,259.60 591.00,266.70 570.00,271.90 548.20,279.30 532.70,285.60 513.00,288.40 487.80,290.50" fill="#4898e8" />
<polygon points="487.80,185.40 655.60,185.40 655.60,236.80 613.90,249.10 587.50,260.50 570.00,264.90 548.20,270.20 530.00,277.20 513.00,284.90 487.80,286.30" fill="#50a4f4" />
<polygon points="487.80,185.40 655.60,185.40 655.60,209.50 635.00,219.50 617.60,226.50 601.00,235.30 570.00,246.50 559.40,254.00 545.40,261.00 530.00,266.00 513.00,275.10 493.40,284.90 487.80,285.60" fill="#78c6f0" />
<polygon points="487.80,185.40 611.40,185.40 594.80,198.90 578.00,208.50 553.60,223.80 533.40,240.00 521.00,250.00 508.20,260.40 487.80,270.20" fill="#c0f0f8" />
<polygon points="487.80,185.40 583.40,185.40 487.80,266.60" fill="#e8e4fa" />
<polygon points="487.80,185.40 520.30,185.40 511.50,197.50 497.50,210.70 487.80,222.90" fill="#cdc6f6" />
<line x1="489.00" y1="266.00" x2="583.40" y2="185.80" stroke="#f02828" stroke-width="2.9" stroke-dasharray="2.9,2.3"/>
<line x1="533.40" y1="224.70" x2="520.00" y2="211.50" stroke="#f02828" stroke-width="1.8" />
<polygon points="516.20,207.30 524.50,210.00 519.00,215.30" fill="#f02828" />
<text transform="translate(506.00 229.50) rotate(-43)" font-size="8.6" text-anchor="middle" font-weight="bold" fill="#f02828" >Profitable</text>
<text transform="translate(511.50 242.50) rotate(-42)" font-size="8.5" text-anchor="middle" font-weight="bold" fill="#f02828" >region</text>
<text transform="translate(553.50 207.50) rotate(-41)" font-size="8.6" text-anchor="middle" font-weight="bold" fill="#f02828" >$ 3073.9/ton</text>
<text transform="translate(571.00 218.50) rotate(-40)" font-size="8.5" text-anchor="middle" font-weight="bold" fill="#f02828" >Breakeven point</text>
<text transform="translate(626.00 306.60)" font-size="8.4" text-anchor="middle" font-weight="normal" fill="#fff" stroke="#fff" stroke-width="0.35">400 mA cm<tspan dy="-3" font-size="5.5">-2</tspan></text>
<rect x="487.80" y="185.40" width="167.80" height="124.70" fill="none" stroke="#222" stroke-width="1.1"/>
<line x1="485.20" y1="310.10" x2="487.80" y2="310.10" stroke="#000" stroke-width="1" />
<text transform="translate(482.90 313.10) scale(1.0 1.04)" font-size="8.8" text-anchor="end" font-weight="bold" fill="#000" >0</text>
<line x1="485.20" y1="285.16" x2="487.80" y2="285.16" stroke="#000" stroke-width="1" />
<text transform="translate(482.90 288.16) scale(1.0 1.04)" font-size="8.8" text-anchor="end" font-weight="bold" fill="#000" >20</text>
<line x1="485.20" y1="260.22" x2="487.80" y2="260.22" stroke="#000" stroke-width="1" />
<text transform="translate(482.90 263.22) scale(1.0 1.04)" font-size="8.8" text-anchor="end" font-weight="bold" fill="#000" >40</text>
<line x1="485.20" y1="235.28" x2="487.80" y2="235.28" stroke="#000" stroke-width="1" />
<text transform="translate(482.90 238.28) scale(1.0 1.04)" font-size="8.8" text-anchor="end" font-weight="bold" fill="#000" >60</text>
<line x1="485.20" y1="210.34" x2="487.80" y2="210.34" stroke="#000" stroke-width="1" />
<text transform="translate(482.90 213.34) scale(1.0 1.04)" font-size="8.8" text-anchor="end" font-weight="bold" fill="#000" >80</text>
<line x1="485.20" y1="185.40" x2="487.80" y2="185.40" stroke="#000" stroke-width="1" />
<text transform="translate(482.90 188.40) scale(1.0 1.04)" font-size="8.8" text-anchor="end" font-weight="bold" fill="#000" >100</text>
<line x1="486.30" y1="297.63" x2="487.80" y2="297.63" stroke="#000" stroke-width="1" />
<line x1="486.30" y1="272.69" x2="487.80" y2="272.69" stroke="#000" stroke-width="1" />
<line x1="486.30" y1="247.75" x2="487.80" y2="247.75" stroke="#000" stroke-width="1" />
<line x1="486.30" y1="222.81" x2="487.80" y2="222.81" stroke="#000" stroke-width="1" />
<line x1="486.30" y1="197.87" x2="487.80" y2="197.87" stroke="#000" stroke-width="1" />
<line x1="487.80" y1="310.10" x2="487.80" y2="312.70" stroke="#000" stroke-width="1" />
<text transform="translate(487.80 321.30) scale(1.0 1.22)" font-size="8.9" text-anchor="middle" font-weight="bold" fill="#000" >0.1</text>
<line x1="529.75" y1="310.10" x2="529.75" y2="312.70" stroke="#000" stroke-width="1" />
<text transform="translate(529.75 321.30) scale(1.0 1.22)" font-size="8.9" text-anchor="middle" font-weight="bold" fill="#000" >0.2</text>
<line x1="571.70" y1="310.10" x2="571.70" y2="312.70" stroke="#000" stroke-width="1" />
<text transform="translate(571.70 321.30) scale(1.0 1.22)" font-size="8.9" text-anchor="middle" font-weight="bold" fill="#000" >0.3</text>
<line x1="613.65" y1="310.10" x2="613.65" y2="312.70" stroke="#000" stroke-width="1" />
<text transform="translate(613.65 321.30) scale(1.0 1.22)" font-size="8.9" text-anchor="middle" font-weight="bold" fill="#000" >0.4</text>
<line x1="655.60" y1="310.10" x2="655.60" y2="312.70" stroke="#000" stroke-width="1" />
<text transform="translate(655.60 321.30) scale(1.0 1.22)" font-size="8.9" text-anchor="middle" font-weight="bold" fill="#000" >0.5</text>
<line x1="508.77" y1="310.10" x2="508.77" y2="311.60" stroke="#000" stroke-width="1" />
<line x1="550.73" y1="310.10" x2="550.73" y2="311.60" stroke="#000" stroke-width="1" />
<line x1="592.67" y1="310.10" x2="592.67" y2="311.60" stroke="#000" stroke-width="1" />
<line x1="634.62" y1="310.10" x2="634.62" y2="311.60" stroke="#000" stroke-width="1" />
<rect x="657.90" y="185.40" width="7.00" height="11.80" fill="#cdc6f6" />
<rect x="657.90" y="197.20" width="7.00" height="16.60" fill="#e8e4fa" />
<rect x="657.90" y="213.80" width="7.00" height="7.90" fill="#c0f4f8" />
<rect x="657.90" y="221.70" width="7.00" height="21.90" fill="#78c6f0" />
<rect x="657.90" y="243.60" width="7.00" height="24.80" fill="#50a4f4" />
<rect x="657.90" y="268.40" width="7.00" height="25.40" fill="#4898e8" />
<rect x="657.90" y="293.80" width="7.00" height="16.30" fill="#4088d8" />
<text transform="translate(667.50 198.90)" font-size="8.3" text-anchor="start" font-weight="bold" fill="#000" >2.0k</text>
<text transform="translate(667.50 214.10)" font-size="8.3" text-anchor="start" font-weight="bold" fill="#000" >3.0k</text>
<text transform="translate(667.50 222.20)" font-size="8.3" text-anchor="start" font-weight="bold" fill="#000" >3.5k</text>
<text transform="translate(667.50 246.60)" font-size="8.3" text-anchor="start" font-weight="bold" fill="#000" >5.0k</text>
<text transform="translate(667.50 271.00)" font-size="8.3" text-anchor="start" font-weight="bold" fill="#000" >6.5k</text>
<text transform="translate(667.50 295.00)" font-size="8.3" text-anchor="start" font-weight="bold" fill="#000" >8.0k</text>
<text transform="translate(684.00 182.60)" font-size="7.7" text-anchor="end" font-weight="normal" fill="#000" stroke="#000" stroke-width="0.2">The Total Costs Per Ton ($)</text>
<text transform="translate(571.30 334.60) scale(1.0 1.05)" font-size="10.0" text-anchor="middle" font-weight="bold" fill="#000" >Renewable elecrticity cost (USD kW h<tspan dy="-3.5" font-size="6.5">-1</tspan><tspan dy="3.5">)</tspan></text>
<text transform="translate(461.50 246.50) rotate(-90)" font-size="11.5" text-anchor="middle" font-weight="bold" fill="#000" >FE of NO<tspan dy="2.5" font-size="8">2</tspan><tspan dy="-6" font-size="8">-</tspan><tspan dy="3.5"> (%)</tspan></text>
<text transform="translate(451.00 180.50)" font-size="18" text-anchor="start" font-weight="bold" fill="#000" >f</text>
<rect x="40.60" y="387.00" width="104.40" height="13.40" fill="#58a6f6" />
<polygon points="40.60,400.20 40.60,400.04 42.10,399.94 43.60,400.24 45.10,399.89 46.60,400.17 48.10,400.07 49.60,399.88 51.10,400.15 52.60,399.87 54.10,400.11 55.60,399.89 57.10,399.90 58.60,400.10 60.10,400.35 61.60,399.92 63.10,399.98 64.60,400.23 66.10,400.42 67.60,400.20 69.10,400.09 70.60,400.44 72.10,399.88 73.60,400.37 75.10,400.02 76.60,399.94 78.10,399.92 79.60,400.04 81.10,400.34 82.60,399.96 84.10,400.20 85.60,400.23 87.10,400.07 88.60,400.18 90.10,399.89 91.60,399.89 93.10,399.97 94.60,400.26 96.10,400.11 97.60,400.04 99.10,400.20 100.60,400.12 102.10,400.03 103.60,400.33 105.10,400.27 106.60,400.00 108.10,400.19 109.60,400.17 111.10,400.38 112.60,400.29 114.10,400.02 115.60,400.44 117.10,399.92 118.60,400.10 120.10,400.30 121.60,399.94 123.10,400.14 124.60,399.87 126.10,400.25 127.60,400.31 129.10,400.19 130.60,400.38 132.10,400.04 133.60,400.27 135.10,400.21 136.60,400.20 138.10,400.12 139.60,400.35 141.10,400.42 142.60,400.13 144.10,400.25 145.60,399.89 147.10,400.27 148.60,400.24 150.10,400.45 151.60,400.34 153.10,400.02 154.60,400.08 156.10,400.25 157.60,399.86 159.10,400.13 160.60,399.95 162.10,399.92 163.60,399.89 165.10,400.31 166.60,399.93 168.10,400.00 169.60,400.08 171.10,400.37 172.60,399.90 174.10,400.12 175.60,400.18 177.10,400.38 178.60,400.34 180.10,400.37 181.60,400.02 183.10,400.10 184.60,400.07 186.10,400.38 187.60,400.42 189.10,399.94 190.60,399.96 192.10,399.99 193.60,399.99 195.10,400.14 196.60,400.20 198.10,400.01 199.60,399.85 201.10,400.10 202.60,400.07 204.10,400.19 205.60,400.42 207.10,400.26 208.60,400.16 210.10,400.22 211.60,400.26 213.10,399.88 214.60,400.39 216.10,400.32 217.60,400.37 219.10,400.33 220.60,400.09 222.10,400.09 223.60,399.91 225.10,400.23 226.60,399.89 228.10,399.89 229.60,399.98 231.10,399.95 232.60,400.05 234.10,399.88 235.60,399.85 237.10,399.94 238.60,399.91 240.10,400.07 241.60,399.87 243.10,400.37 244.60,400.22 246.10,399.94 247.60,400.00 249.10,400.06 250.60,400.07 252.10,399.92 253.60,400.36 255.10,400.45 256.60,400.13 258.10,400.14 259.60,399.90 261.10,399.91 262.60,400.06 264.10,400.01 265.60,400.35 267.10,399.95 268.60,399.86 270.10,400.42 271.60,400.17 273.10,399.94 274.60,400.18 276.10,399.87 277.60,400.17 279.10,400.44 280.60,400.37 282.10,400.27 283.60,400.01 285.10,400.07 286.60,399.95 288.10,400.31 289.60,400.17 291.10,400.32 292.60,400.05 294.10,399.98 295.60,400.34 297.10,400.44 298.60,400.36 300.10,400.33 301.60,400.34 303.10,400.29 304.60,399.99 306.10,400.16 307.60,400.06 309.10,399.87 310.60,399.87 312.10,400.02 313.60,400.01 315.10,400.27 316.60,400.42 318.10,400.12 319.60,400.41 321.10,400.44 322.60,400.42 324.10,400.07 325.60,399.98 327.10,399.99 328.60,399.97 330.10,399.97 331.60,400.22 333.10,400.39 334.60,400.35 336.10,400.14 337.60,400.24 339.10,400.33 340.60,399.90 342.10,400.25 343.60,400.40 345.10,400.32 346.60,400.30 348.10,400.14 349.60,399.96 351.10,400.32 352.60,400.05 354.10,400.33 355.60,400.43 357.10,400.09 358.60,400.09 360.10,400.42 361.60,400.28 363.10,399.95 364.60,399.93 366.10,399.94 367.60,400.39 369.10,400.33 370.60,399.94 372.10,400.35 373.60,400.44 375.10,400.24 376.60,400.06 378.10,400.18 379.60,399.93 381.10,399.86 382.60,400.43 384.10,400.24 385.60,400.17 387.10,400.41 388.60,400.11 390.10,400.37 391.60,400.35 393.10,399.98 394.60,400.00 396.10,400.03 397.60,399.99 399.10,400.20 400.60,400.01 402.10,400.10 403.60,399.93 405.10,400.40 406.60,400.06 408.10,400.12 409.60,400.20 411.10,400.39 412.60,400.10 414.10,400.40 415.60,400.15 417.10,400.17 418.60,400.16 420.10,399.86 421.60,400.11 423.10,399.96 424.60,399.85 426.10,400.33 427.60,399.95 429.10,400.13 430.60,400.29 432.10,400.18 433.60,400.05 435.10,400.16 436.60,400.18 438.10,400.32 439.60,399.91 441.10,400.19 442.60,400.00 444.10,400.02 445.60,400.31 447.10,400.15 448.60,400.19 450.10,400.31 451.60,400.40 453.10,400.12 454.60,400.22 455.40,400.20 455.40,459.28 454.60,459.28 453.80,459.42 453.00,459.24 452.20,459.30 451.40,459.26 450.60,459.61 449.80,459.43 449.00,459.57 448.20,459.62 447.40,459.10 446.60,459.33 445.80,459.62 445.00,459.54 444.20,459.02 443.40,459.01 442.60,459.25 441.80,458.97 441.00,459.10 440.20,458.97 439.40,459.42 438.60,459.51 437.80,459.59 437.00,459.04 436.20,459.46 435.40,459.42 434.60,459.03 433.80,459.59 433.00,459.65 432.20,459.09 431.40,459.64 430.60,459.23 429.80,459.30 429.00,459.68 428.20,459.56 427.40,459.06 426.60,459.26 425.80,459.32 425.00,459.19 424.20,459.09 423.40,459.18 422.60,459.48 421.80,458.96 421.00,459.36 420.20,459.28 419.40,458.96 418.60,459.20 417.80,459.42 417.00,459.33 416.20,459.00 415.40,459.69 414.60,459.54 413.80,459.68 413.00,459.03 412.20,459.15 411.40,458.99 410.60,459.54 409.80,459.16 409.00,459.06 408.20,459.28 407.40,459.64 406.60,459.58 405.80,459.16 405.00,459.08 404.20,459.65 403.40,459.39 402.60,459.49 401.80,459.04 401.00,459.01 400.20,459.49 399.40,459.29 398.60,459.03 397.80,459.68 397.00,459.45 396.20,459.58 395.40,459.04 394.60,459.62 393.80,459.03 393.00,459.63 392.20,459.32 391.40,459.24 390.60,459.40 389.80,459.68 389.00,459.19 388.20,459.08 387.40,459.38 386.60,459.17 385.80,459.07 385.00,459.11 384.20,459.03 383.40,459.14 382.60,459.23 381.80,459.22 381.00,459.57 380.20,459.21 379.40,459.37 378.60,459.13 377.80,459.26 377.00,459.01 376.20,459.19 375.40,459.01 374.60,459.55 373.80,459.42 373.00,459.15 372.20,459.36 371.40,459.71 370.60,459.09 369.80,459.62 369.00,459.34 368.20,459.38 367.40,459.64 366.60,459.31 365.80,459.40 365.00,459.53 364.20,459.75 363.40,459.28 362.60,459.64 361.80,459.55 361.00,459.50 360.20,459.33 359.40,459.28 358.60,459.07 357.80,463.30 357.00,463.30 356.20,459.58 355.40,459.22 354.60,459.15 353.80,459.09 353.00,459.66 352.20,459.69 351.40,459.54 350.60,459.25 349.80,459.22 349.00,459.26 348.20,459.38 347.40,459.16 346.60,459.37 345.80,459.24 345.00,459.76 344.20,459.77 343.40,459.45 342.60,459.23 341.80,459.77 341.00,459.28 340.20,459.32 339.40,459.05 338.60,459.34 337.80,459.41 337.00,459.43 336.20,459.20 335.40,459.43 334.60,459.06 333.80,459.25 333.00,459.12 332.20,459.36 331.40,459.09 330.60,459.08 329.80,459.29 329.00,459.24 328.20,459.50 327.40,459.46 326.60,459.63 325.80,459.56 325.00,459.60 324.20,459.73 323.40,459.36 322.60,459.32 321.80,459.81 321.00,459.19 320.20,459.62 319.40,459.56 318.60,459.11 317.80,459.70 317.00,459.75 316.20,459.55 315.40,459.63 314.60,459.69 313.80,459.19 313.00,459.48 312.20,459.46 311.40,459.71 310.60,459.69 309.80,459.71 309.00,459.53 308.20,459.76 307.40,459.60 306.60,459.61 305.80,459.26 305.00,459.12 304.20,459.19 303.40,459.37 302.60,459.18 301.80,459.72 301.00,459.52 300.20,459.57 299.40,459.57 298.60,459.61 297.80,459.47 297.00,459.10 296.20,459.70 295.40,459.66 294.60,459.48 293.80,459.50 293.00,459.59 292.20,459.15 291.40,459.65 290.60,459.29 289.80,459.16 289.00,459.30 288.20,459.65 287.40,459.25 286.60,459.65 285.80,459.83 285.00,459.47 284.20,459.39 283.40,459.46 282.60,459.61 281.80,459.68 281.00,459.56 280.20,459.58 279.40,459.16 278.60,459.21 277.80,459.29 277.00,459.66 276.20,459.33 275.40,459.53 274.60,459.11 273.80,459.15 273.00,459.30 272.20,459.60 271.40,459.62 270.60,459.61 269.80,459.32 269.00,459.49 268.20,459.45 267.40,459.45 266.60,459.19 265.80,459.77 265.00,459.25 264.20,459.83 263.40,459.80 262.60,459.11 261.80,459.44 261.00,459.71 260.20,459.83 259.40,459.44 258.60,459.30 257.80,459.26 257.00,459.81 256.20,459.26 255.40,459.54 254.60,459.21 253.80,459.49 253.00,459.81 252.20,459.20 251.40,459.72 250.60,459.48 249.80,459.77 249.00,459.63 248.20,459.27 247.40,459.77 246.60,459.46 245.80,459.12 245.00,459.10 244.20,459.47 243.40,459.44 242.60,459.33 241.80,459.21 241.00,459.36 240.20,459.34 239.40,459.73 238.60,459.10 237.80,459.66 237.00,459.73 236.20,459.19 235.40,459.79 234.60,459.63 233.80,459.78 233.00,459.32 232.20,459.38 231.40,459.39 230.60,459.85 229.80,459.54 229.00,459.37 228.20,459.42 227.40,459.31 226.60,459.14 225.80,459.18 225.00,459.73 224.20,459.31 223.40,459.80 222.60,459.29 221.80,459.30 221.00,459.48 220.20,459.24 219.40,459.38 218.60,459.82 217.80,459.76 217.00,459.71 216.20,459.57 215.40,459.79 214.60,459.81 213.80,459.51 213.00,459.64 212.20,459.14 211.40,459.65 210.60,459.44 209.80,459.66 209.00,459.58 208.20,459.31 207.40,459.14 206.60,459.80 205.80,459.20 205.00,459.45 204.20,459.36 203.40,459.32 202.60,459.65 201.80,459.83 201.00,459.30 200.20,459.59 199.40,459.33 198.60,459.52 197.80,459.40 197.00,459.23 196.20,459.22 195.40,459.26 194.60,459.78 193.80,459.47 193.00,459.27 192.20,459.78 191.40,459.85 190.60,459.44 189.80,459.20 189.00,459.24 188.20,459.17 187.40,459.36 186.60,459.17 185.80,459.28 185.00,459.29 184.20,459.53 183.40,459.77 182.60,459.66 181.80,459.41 181.00,464.60 180.20,464.60 179.40,464.60 178.60,459.35 177.80,459.15 177.00,459.31 176.20,459.83 175.40,459.19 174.60,459.48 173.80,459.57 173.00,459.75 172.20,459.26 171.40,459.30 170.60,459.29 169.80,459.40 169.00,459.43 168.20,459.82 167.40,459.74 166.60,459.75 165.80,459.12 165.00,459.12 164.20,459.63 163.40,459.77 162.60,459.45 161.80,459.54 161.00,459.10 160.20,459.39 159.40,459.80 158.60,459.72 157.80,459.74 157.00,459.83 156.20,459.29 155.40,459.18 154.60,459.22 153.80,459.49 153.00,459.61 152.20,459.81 151.40,459.64 150.60,459.59 149.80,459.67 149.00,459.44 148.20,459.51 147.40,459.13 146.60,459.69 145.80,459.27 145.00,459.79 144.20,459.58 143.40,459.33 142.60,459.20 141.80,459.29 141.00,459.58 140.20,459.62 139.40,459.18 138.60,459.15 137.80,459.49 137.00,459.54 136.20,459.39 135.40,459.27 134.60,459.55 133.80,459.11 133.00,459.33 132.20,459.45 131.40,459.82 130.60,459.58 129.80,459.76 129.00,459.46 128.20,459.28 127.40,459.29 126.60,459.81 125.80,459.60 125.00,459.28 124.20,459.05 123.40,459.39 122.60,459.51 121.80,459.30 121.00,459.16 120.20,459.45 119.40,459.63 118.60,459.09 117.80,458.92 117.00,459.13 116.20,459.18 115.40,459.36 114.60,458.98 113.80,459.41 113.00,459.35 112.20,459.16 111.40,458.92 110.60,459.47 109.80,458.96 109.00,459.33 108.20,458.87 107.40,458.84 106.60,459.23 105.80,458.86 105.00,459.34 104.20,458.98 103.40,458.73 102.60,458.74 101.80,458.87 101.00,459.04 100.20,459.24 99.40,458.62 98.60,458.79 97.80,458.63 97.00,459.19 96.20,458.55 95.40,458.46 94.60,458.45 93.80,458.68 93.00,459.04 92.20,459.02 91.40,458.89 90.60,459.07 89.80,459.00 89.00,458.53 88.20,458.41 87.40,458.95 86.60,458.79 85.80,458.24 85.00,458.70 84.20,458.47 83.40,458.45 82.60,458.40 81.80,458.26 81.00,458.12 80.20,458.31 79.40,458.35 78.60,458.78 77.80,458.14 77.00,458.75 76.20,458.17 75.40,458.26 74.60,458.60 73.80,458.58 73.00,458.27 72.20,457.97 71.40,458.27 70.60,458.17 69.80,458.57 69.00,458.01 68.20,458.12 67.40,458.50 66.60,457.83 65.80,458.10 65.00,458.38 64.20,458.33 63.40,457.77 62.60,457.75 61.80,457.76 61.00,458.38 60.20,457.87 59.40,458.22 58.60,458.31 57.80,457.88 57.00,457.81 56.20,458.31 55.40,458.03 54.60,457.75 53.80,458.08 53.00,457.76 52.20,457.71 51.40,457.49 50.60,458.04 49.80,458.14 49.00,457.91 48.20,458.13 47.40,457.42 46.60,457.39 45.80,457.35 45.00,457.50 44.20,457.28 43.40,456.64 42.60,456.33 41.80,456.24 41.00,456.08 40.60,455.90" fill="#f0636e" />
<line x1="40.60" y1="387.00" x2="214.60" y2="387.00" stroke="#444" stroke-width="1.1" stroke-dasharray="2.8,1.8"/>
<line x1="40.60" y1="400.40" x2="214.60" y2="400.40" stroke="#222" stroke-width="1.1" stroke-dasharray="2.8,1.8"/>
<rect x="40.60" y="355.60" width="414.80" height="123.20" fill="none" stroke="#222" stroke-width="1.1"/>
<line x1="37.60" y1="465.83" x2="40.60" y2="465.83" stroke="#000" stroke-width="1" />
<text transform="translate(34.90 469.23) scale(1.0 1.1)" font-size="8.9" text-anchor="end" font-weight="bold" fill="#000" >0.8</text>
<line x1="37.60" y1="439.89" x2="40.60" y2="439.89" stroke="#000" stroke-width="1" />
<text transform="translate(34.90 443.29) scale(1.0 1.1)" font-size="8.9" text-anchor="end" font-weight="bold" fill="#000" >1.2</text>
<line x1="37.60" y1="413.96" x2="40.60" y2="413.96" stroke="#000" stroke-width="1" />
<text transform="translate(34.90 417.36) scale(1.0 1.1)" font-size="8.9" text-anchor="end" font-weight="bold" fill="#000" >1.6</text>
<line x1="37.60" y1="388.02" x2="40.60" y2="388.02" stroke="#000" stroke-width="1" />
<text transform="translate(34.90 391.42) scale(1.0 1.1)" font-size="8.9" text-anchor="end" font-weight="bold" fill="#000" >2.0</text>
<line x1="37.60" y1="362.08" x2="40.60" y2="362.08" stroke="#000" stroke-width="1" />
<text transform="translate(34.90 365.48) scale(1.0 1.1)" font-size="8.9" text-anchor="end" font-weight="bold" fill="#000" >2.4</text>
<line x1="39.10" y1="452.86" x2="40.60" y2="452.86" stroke="#000" stroke-width="1" />
<line x1="39.10" y1="426.93" x2="40.60" y2="426.93" stroke="#000" stroke-width="1" />
<line x1="39.10" y1="400.99" x2="40.60" y2="400.99" stroke="#000" stroke-width="1" />
<line x1="39.10" y1="375.05" x2="40.60" y2="375.05" stroke="#000" stroke-width="1" />
<line x1="40.60" y1="478.80" x2="40.60" y2="481.80" stroke="#000" stroke-width="1" />
<text transform="translate(40.60 492.20) scale(1.0 1.2)" font-size="8.6" text-anchor="middle" font-weight="bold" fill="#000" >0</text>
<line x1="123.56" y1="478.80" x2="123.56" y2="481.80" stroke="#000" stroke-width="1" />
<text transform="translate(123.56 492.20) scale(1.0 1.2)" font-size="8.6" text-anchor="middle" font-weight="bold" fill="#000" >20</text>
<line x1="206.52" y1="478.80" x2="206.52" y2="481.80" stroke="#000" stroke-width="1" />
<text transform="translate(206.52 492.20) scale(1.0 1.2)" font-size="8.6" text-anchor="middle" font-weight="bold" fill="#000" >40</text>
<line x1="289.48" y1="478.80" x2="289.48" y2="481.80" stroke="#000" stroke-width="1" />
<text transform="translate(289.48 492.20) scale(1.0 1.2)" font-size="8.6" text-anchor="middle" font-weight="bold" fill="#000" >60</text>
<line x1="372.44" y1="478.80" x2="372.44" y2="481.80" stroke="#000" stroke-width="1" />
<text transform="translate(372.44 492.20) scale(1.0 1.2)" font-size="8.6" text-anchor="middle" font-weight="bold" fill="#000" >80</text>
<line x1="455.40" y1="478.80" x2="455.40" y2="481.80" stroke="#000" stroke-width="1" />
<text transform="translate(455.40 492.20) scale(1.0 1.2)" font-size="8.6" text-anchor="middle" font-weight="bold" fill="#000" >100</text>
<line x1="82.08" y1="478.80" x2="82.08" y2="480.30" stroke="#000" stroke-width="1" />
<line x1="165.04" y1="478.80" x2="165.04" y2="480.30" stroke="#000" stroke-width="1" />
<line x1="248.00" y1="478.80" x2="248.00" y2="480.30" stroke="#000" stroke-width="1" />
<line x1="330.96" y1="478.80" x2="330.96" y2="480.30" stroke="#000" stroke-width="1" />
<line x1="413.92" y1="478.80" x2="413.92" y2="480.30" stroke="#000" stroke-width="1" />
<text transform="translate(245.60 500.90) scale(1.0 1.06)" font-size="11.2" text-anchor="middle" font-weight="bold" fill="#000" >Time (h)</text>
<text transform="translate(13.50 417.00) rotate(-90)" font-size="11.3" text-anchor="middle" font-weight="bold" fill="#000" >Voltage (V)</text>
<text transform="translate(6.50 359.00)" font-size="18" text-anchor="start" font-weight="bold" fill="#000" >g</text>
<text transform="translate(220.00 396.90)" font-size="11.2" text-anchor="middle" font-weight="bold" fill="#000" >~213 mV</text>
<line x1="321.00" y1="364.50" x2="347.90" y2="364.50" stroke="#f0636e" stroke-width="1.8" />
<line x1="321.00" y1="378.50" x2="347.90" y2="378.50" stroke="#58a6f6" stroke-width="1.8" />
<text transform="translate(349.80 368.20)" font-size="11.2" text-anchor="start" font-weight="bold" fill="#000" >Zn-urea-air battery</text>
<text transform="translate(349.80 382.00)" font-size="11.2" text-anchor="start" font-weight="bold" fill="#000" >Zn-air battery</text>
<polyline points="496.30,406.00 505.08,408.20 513.86,404.60 522.64,404.60 531.42,405.40 540.20,406.50 548.98,408.20 557.76,406.00 566.54,404.60 575.32,406.50 584.10,405.40 592.88,404.70 601.66,408.90 610.44,408.20 619.22,404.60 628.00,403.90 636.78,404.60 645.56,406.30 654.34,405.10 663.12,406.50 671.90,407.40" fill="none" stroke="#f06a74" stroke-width="1.1" stroke-linejoin="round" />
<circle cx="496.30" cy="406.00" r="1.6" fill="#f39aa1" stroke="#f06a74" stroke-width="0.8"/>
<circle cx="505.08" cy="408.20" r="1.6" fill="#f39aa1" stroke="#f06a74" stroke-width="0.8"/>
<circle cx="513.86" cy="404.60" r="1.6" fill="#f39aa1" stroke="#f06a74" stroke-width="0.8"/>
<circle cx="522.64" cy="404.60" r="1.6" fill="#f39aa1" stroke="#f06a74" stroke-width="0.8"/>
<circle cx="531.42" cy="405.40" r="1.6" fill="#f39aa1" stroke="#f06a74" stroke-width="0.8"/>
<circle cx="540.20" cy="406.50" r="1.6" fill="#f39aa1" stroke="#f06a74" stroke-width="0.8"/>
<circle cx="548.98" cy="408.20" r="1.6" fill="#f39aa1" stroke="#f06a74" stroke-width="0.8"/>
<circle cx="557.76" cy="406.00" r="1.6" fill="#f39aa1" stroke="#f06a74" stroke-width="0.8"/>
<circle cx="566.54" cy="404.60" r="1.6" fill="#f39aa1" stroke="#f06a74" stroke-width="0.8"/>
<circle cx="575.32" cy="406.50" r="1.6" fill="#f39aa1" stroke="#f06a74" stroke-width="0.8"/>
<circle cx="584.10" cy="405.40" r="1.6" fill="#f39aa1" stroke="#f06a74" stroke-width="0.8"/>
<circle cx="592.88" cy="404.70" r="1.6" fill="#f39aa1" stroke="#f06a74" stroke-width="0.8"/>
<circle cx="601.66" cy="408.90" r="1.6" fill="#f39aa1" stroke="#f06a74" stroke-width="0.8"/>
<circle cx="610.44" cy="408.20" r="1.6" fill="#f39aa1" stroke="#f06a74" stroke-width="0.8"/>
<circle cx="619.22" cy="404.60" r="1.6" fill="#f39aa1" stroke="#f06a74" stroke-width="0.8"/>
<circle cx="628.00" cy="403.90" r="1.6" fill="#f39aa1" stroke="#f06a74" stroke-width="0.8"/>
<circle cx="636.78" cy="404.60" r="1.6" fill="#f39aa1" stroke="#f06a74" stroke-width="0.8"/>
<circle cx="645.56" cy="406.30" r="1.6" fill="#f39aa1" stroke="#f06a74" stroke-width="0.8"/>
<circle cx="654.34" cy="405.10" r="1.6" fill="#f39aa1" stroke="#f06a74" stroke-width="0.8"/>
<circle cx="663.12" cy="406.50" r="1.6" fill="#f39aa1" stroke="#f06a74" stroke-width="0.8"/>
<circle cx="671.90" cy="407.40" r="1.6" fill="#f39aa1" stroke="#f06a74" stroke-width="0.8"/>
<polyline points="496.30,425.50 505.08,424.40 513.86,423.60 522.64,424.40 531.42,423.20 540.20,424.00" fill="none" stroke="#58a6f6" stroke-width="1.1" stroke-linejoin="round" />
<circle cx="496.30" cy="425.50" r="1.6" fill="#9ccbfa" stroke="#58a6f6" stroke-width="0.8"/>
<circle cx="505.08" cy="424.40" r="1.6" fill="#9ccbfa" stroke="#58a6f6" stroke-width="0.8"/>
<circle cx="513.86" cy="423.60" r="1.6" fill="#9ccbfa" stroke="#58a6f6" stroke-width="0.8"/>
<circle cx="522.64" cy="424.40" r="1.6" fill="#9ccbfa" stroke="#58a6f6" stroke-width="0.8"/>
<circle cx="531.42" cy="423.20" r="1.6" fill="#9ccbfa" stroke="#58a6f6" stroke-width="0.8"/>
<circle cx="540.20" cy="424.00" r="1.6" fill="#9ccbfa" stroke="#58a6f6" stroke-width="0.8"/>
<rect x="496.30" y="358.10" width="175.60" height="128.30" fill="none" stroke="#222" stroke-width="1.1"/>
<line x1="493.70" y1="486.40" x2="496.30" y2="486.40" stroke="#000" stroke-width="1" />
<text transform="translate(491.40 489.70) scale(1.0 1.18)" font-size="8.3" text-anchor="end" font-weight="bold" fill="#000" >30</text>
<line x1="493.70" y1="454.32" x2="496.30" y2="454.32" stroke="#000" stroke-width="1" />
<text transform="translate(491.40 457.62) scale(1.0 1.18)" font-size="8.3" text-anchor="end" font-weight="bold" fill="#000" >40</text>
<line x1="493.70" y1="422.25" x2="496.30" y2="422.25" stroke="#000" stroke-width="1" />
<text transform="translate(491.40 425.55) scale(1.0 1.18)" font-size="8.3" text-anchor="end" font-weight="bold" fill="#000" >50</text>
<line x1="493.70" y1="390.18" x2="496.30" y2="390.18" stroke="#000" stroke-width="1" />
<text transform="translate(491.40 393.48) scale(1.0 1.18)" font-size="8.3" text-anchor="end" font-weight="bold" fill="#000" >60</text>
<line x1="493.70" y1="358.10" x2="496.30" y2="358.10" stroke="#000" stroke-width="1" />
<text transform="translate(491.40 361.40) scale(1.0 1.18)" font-size="8.3" text-anchor="end" font-weight="bold" fill="#000" >70</text>
<line x1="494.80" y1="470.36" x2="496.30" y2="470.36" stroke="#000" stroke-width="1" />
<line x1="494.80" y1="438.29" x2="496.30" y2="438.29" stroke="#000" stroke-width="1" />
<line x1="494.80" y1="406.21" x2="496.30" y2="406.21" stroke="#000" stroke-width="1" />
<line x1="494.80" y1="374.14" x2="496.30" y2="374.14" stroke="#000" stroke-width="1" />
<line x1="496.30" y1="486.40" x2="496.30" y2="489.00" stroke="#000" stroke-width="1" />
<text transform="translate(496.30 497.90) scale(1.0 1.2)" font-size="8.6" text-anchor="middle" font-weight="bold" fill="#000" >0</text>
<line x1="531.42" y1="486.40" x2="531.42" y2="489.00" stroke="#000" stroke-width="1" />
<text transform="translate(531.42 497.90) scale(1.0 1.2)" font-size="8.6" text-anchor="middle" font-weight="bold" fill="#000" >20</text>
<line x1="566.54" y1="486.40" x2="566.54" y2="489.00" stroke="#000" stroke-width="1" />
<text transform="translate(566.54 497.90) scale(1.0 1.2)" font-size="8.6" text-anchor="middle" font-weight="bold" fill="#000" >40</text>
<line x1="601.66" y1="486.40" x2="601.66" y2="489.00" stroke="#000" stroke-width="1" />
<text transform="translate(601.66 497.90) scale(1.0 1.2)" font-size="8.6" text-anchor="middle" font-weight="bold" fill="#000" >60</text>
<line x1="636.78" y1="486.40" x2="636.78" y2="489.00" stroke="#000" stroke-width="1" />
<text transform="translate(636.78 497.90) scale(1.0 1.2)" font-size="8.6" text-anchor="middle" font-weight="bold" fill="#000" >80</text>
<line x1="671.90" y1="486.40" x2="671.90" y2="489.00" stroke="#000" stroke-width="1" />
<text transform="translate(671.90 497.90) scale(1.0 1.2)" font-size="8.6" text-anchor="middle" font-weight="bold" fill="#000" >100</text>
<line x1="513.86" y1="486.40" x2="513.86" y2="487.90" stroke="#000" stroke-width="1" />
<line x1="548.98" y1="486.40" x2="548.98" y2="487.90" stroke="#000" stroke-width="1" />
<line x1="584.10" y1="486.40" x2="584.10" y2="487.90" stroke="#000" stroke-width="1" />
<line x1="619.22" y1="486.40" x2="619.22" y2="487.90" stroke="#000" stroke-width="1" />
<line x1="654.34" y1="486.40" x2="654.34" y2="487.90" stroke="#000" stroke-width="1" />
<line x1="498.90" y1="367.10" x2="516.90" y2="367.10" stroke="#f06a74" stroke-width="1.1" />
<circle cx="508.2" cy="367.1" r="1.6" fill="#f39aa1" stroke="#f06a74" stroke-width="0.8"/>
<line x1="498.90" y1="380.50" x2="516.90" y2="380.50" stroke="#58a6f6" stroke-width="1.1" />
<circle cx="508.2" cy="380.5" r="1.6" fill="#9ccbfa" stroke="#58a6f6" stroke-width="0.8"/>
<text transform="translate(519.60 369.70)" font-size="10.9" text-anchor="start" font-weight="bold" fill="#000" >Zn-urea-air battery</text>
<text transform="translate(519.60 383.20)" font-size="10.9" text-anchor="start" font-weight="bold" fill="#000" >Zn-air battery</text>
<text transform="translate(584.00 509.90) scale(1.0 1.04)" font-size="11.4" text-anchor="middle" font-weight="bold" fill="#000" >Time (h)</text>
<text transform="translate(478.30 421.90) rotate(-90)" font-size="11.4" text-anchor="middle" font-weight="bold" fill="#000" >Enerygy efficiency (%)</text>
<text transform="translate(466.50 357.50)" font-size="18" text-anchor="start" font-weight="bold" fill="#000" >h</text>
</svg></body></html>
